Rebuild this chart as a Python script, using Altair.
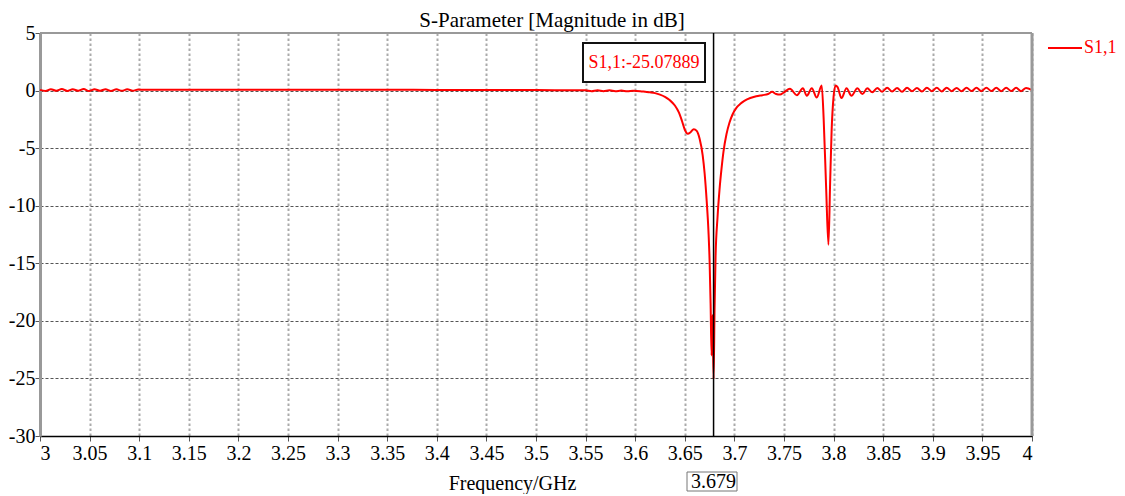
import altair as alt
import pandas as pd

# ---- data ----
freq_ghz = [
    3.000, 3.0055, 3.011, 3.0165, 3.022, 3.0275, 3.033, 3.0385, 3.044, 3.0495,
    3.055, 3.0605, 3.066, 3.0715, 3.077, 3.0825, 3.088, 3.0935, 3.099,
    3.105, 3.15, 3.20, 3.25, 3.30, 3.35, 3.40, 3.45, 3.50, 3.54,
    3.550, 3.556, 3.562, 3.568, 3.574, 3.580, 3.586, 3.592, 3.598,
    3.605, 3.610, 3.615, 3.620, 3.625, 3.630, 3.635, 3.640, 3.644, 3.647,
    3.650, 3.653, 3.656, 3.659, 3.662, 3.665, 3.668, 3.670, 3.672, 3.674,
    3.675, 3.676, 3.677, 3.678, 3.679, 3.680, 3.681, 3.683, 3.685, 3.687,
    3.689, 3.692, 3.695, 3.698, 3.702, 3.706, 3.710, 3.716, 3.722, 3.728,
    3.734, 3.738, 3.742, 3.746, 3.750, 3.756, 3.763, 3.769, 3.773, 3.778,
    3.783, 3.788, 3.790, 3.7925, 3.7948, 3.7965, 3.798, 3.800, 3.802,
    3.804, 3.808, 3.813, 3.818, 3.824, 3.829, 3.834, 3.839,
    3.844, 3.849, 3.854, 3.859, 3.864, 3.869, 3.874, 3.879, 3.884, 3.889,
    3.894, 3.899, 3.904, 3.909, 3.914, 3.919, 3.924, 3.929, 3.934, 3.939,
    3.944, 3.949, 3.954, 3.959, 3.964, 3.969, 3.974, 3.979, 3.984, 3.989,
    3.994, 3.9995,
]
s11_db = [
    0.06, -0.03, 0.12, -0.02, 0.13, -0.03, 0.12, -0.02, 0.13, -0.04,
    0.12, -0.02, 0.12, -0.03, 0.11, -0.02, 0.11, -0.01, 0.09,
    0.07, 0.08, 0.08, 0.08, 0.07, 0.07, 0.06, 0.05, 0.04, 0.03,
    0.02, -0.06, 0.03, -0.05, 0.02, -0.06, 0.00, -0.06, -0.02,
    -0.05, -0.10, -0.15, -0.22, -0.35, -0.55, -0.85, -1.30, -1.90, -2.60,
    -3.40, -3.75, -3.60, -3.35, -3.50, -4.20, -5.60, -7.20, -9.50, -12.50,
    -14.80, -18.50, -23.00, -19.50, -25.07889, -19.00, -14.50, -11.00, -8.60, -6.80,
    -5.30, -3.80, -2.80, -2.10, -1.50, -1.15, -0.90, -0.65, -0.50, -0.40,
    -0.30, -0.10, -0.30, -0.35, -0.15, 0.15, -0.40, 0.20, -0.45, 0.20,
    -0.60, 0.45, -2.50, -8.50, -13.40, -8.00, -3.50, -0.50, 0.45,
    0.30, -0.65, 0.20, -0.45, 0.20, -0.30, 0.20, -0.15,
    0.22, -0.10, 0.25, -0.08, 0.22, -0.10, 0.24, -0.06, 0.23, -0.08,
    0.25, -0.05, 0.24, -0.07, 0.25, -0.05, 0.23, -0.06, 0.25, -0.04,
    0.24, -0.05, 0.25, -0.04, 0.24, -0.05, 0.25, -0.04, 0.24, -0.05,
    0.22, 0.05,
]
x_ticks = [3, 3.05, 3.1, 3.15, 3.2, 3.25, 3.3, 3.35, 3.4, 3.45, 3.5,
           3.55, 3.6, 3.65, 3.7, 3.75, 3.8, 3.85, 3.9, 3.95, 4]
y_ticks = [5, 0, -5, -10, -15, -20, -25, -30]
series_name = "S1,1"
marker_freq = 3.679
marker_value = -25.07889

FONT = "Liberation Serif"
RED = "#ff0000"

df = pd.DataFrame({"freq": freq_ghz, "s11": s11_db})
one = pd.DataFrame({"k": [0]})

xscale = alt.Scale(domain=[3, 4], nice=False, zero=False)
yscale = alt.Scale(domain=[-30, 5], nice=False, zero=False)

line = alt.Chart(df).mark_line(color=RED, strokeWidth=2, interpolate="monotone").encode(
    x=alt.X("freq:Q", scale=xscale,
            axis=alt.Axis(values=x_ticks, labelExpr="datum.value + ''",
                          title="Frequency/GHz", titleX=472, titleY=47,
                          titleBaseline="middle", titleAlign="center",
                          titleFont=FONT, titleFontSize=20, titleFontWeight="normal",
                          titleColor="black",
                          labelFont=FONT, labelFontSize=20, labelColor="black",
                          labelBaseline="middle", labelPadding=12,
                          tickSize=5, tickColor="#555",
                          domainColor="black", domainWidth=1.5,
                          grid=True, gridColor="#aaaaaa", gridDash=[2.5, 2.5],
                          gridWidth=2)),
    y=alt.Y("s11:Q", scale=yscale,
            axis=alt.Axis(values=y_ticks, labelExpr="datum.value + ''",
                          title=None,
                          labelFont=FONT, labelFontSize=20, labelColor="black",
                          labelPadding=0, tickSize=5, tickColor="#555",
                          domainColor="#999999", domainWidth=3,
                          grid=True, gridColor="#555555", gridDash=[3, 2],
                          gridWidth=1.2)),
)

top_border = alt.Chart(one).mark_rule(color="#999999", strokeWidth=2).encode(
    y=alt.datum(5, scale=yscale), x=alt.value(0), x2=alt.value(992))
right_border = alt.Chart(one).mark_rule(color="#999999", strokeWidth=3).encode(
    x=alt.datum(4, scale=xscale), y=alt.value(0), y2=alt.value(403))

marker_rule = alt.Chart(one).mark_rule(color="black", strokeWidth=1.5).encode(
    x=alt.datum(marker_freq, scale=xscale), y=alt.value(0), y2=alt.value(403))

# marker readout box (annotation geometry)
box = alt.Chart(one).mark_rect(fill="white", stroke="#111", strokeWidth=2).encode(
    x=alt.value(543), x2=alt.value(665), y=alt.value(10), y2=alt.value(49))
box_text = alt.Chart(one).mark_text(font=FONT, fontSize=18, color=RED,
                                    baseline="middle", align="center").encode(
    x=alt.value(604), y=alt.value(30),
    text=alt.value(f"{series_name}:{marker_value}"))

# marker frequency readout below the axis
fbox = alt.Chart(one).mark_rect(fill="white", stroke="#777", strokeWidth=1).encode(
    x=alt.value(647), x2=alt.value(697), y=alt.value(439), y2=alt.value(458))
ftext = alt.Chart(one).mark_text(font=FONT, fontSize=20, color="black",
                                 baseline="middle", align="center").encode(
    x=alt.datum(marker_freq, scale=xscale), y=alt.value(449),
    text=alt.value(f"{marker_freq}"))

title = alt.Chart(one).mark_text(font=FONT, fontSize=21, color="black",
                                 baseline="middle", align="center").encode(
    x=alt.value(512), y=alt.value(-12),
    text=alt.value("S-Parameter [Magnitude in dB]"))

leg_line = alt.Chart(one).mark_rule(color=RED, strokeWidth=2).encode(
    x=alt.value(1008), x2=alt.value(1042), y=alt.value(15))
leg_text = alt.Chart(one).mark_text(font=FONT, fontSize=18, color=RED,
                                    baseline="middle", align="left").encode(
    x=alt.value(1044), y=alt.value(15), text=alt.value(series_name))

chart = alt.layer(
    line, top_border, right_border, marker_rule, box, box_text,
    fbox, ftext, title, leg_line, leg_text,
).properties(
    width=992, height=403,
    autosize=alt.AutoSizeParams(type="none"),
    padding={"left": 32, "top": 25, "right": 85, "bottom": 58},
).configure_view(stroke=None).configure(background="white")

chart.save("out.html", embed_options={"renderer": "svg", "actions": False})
